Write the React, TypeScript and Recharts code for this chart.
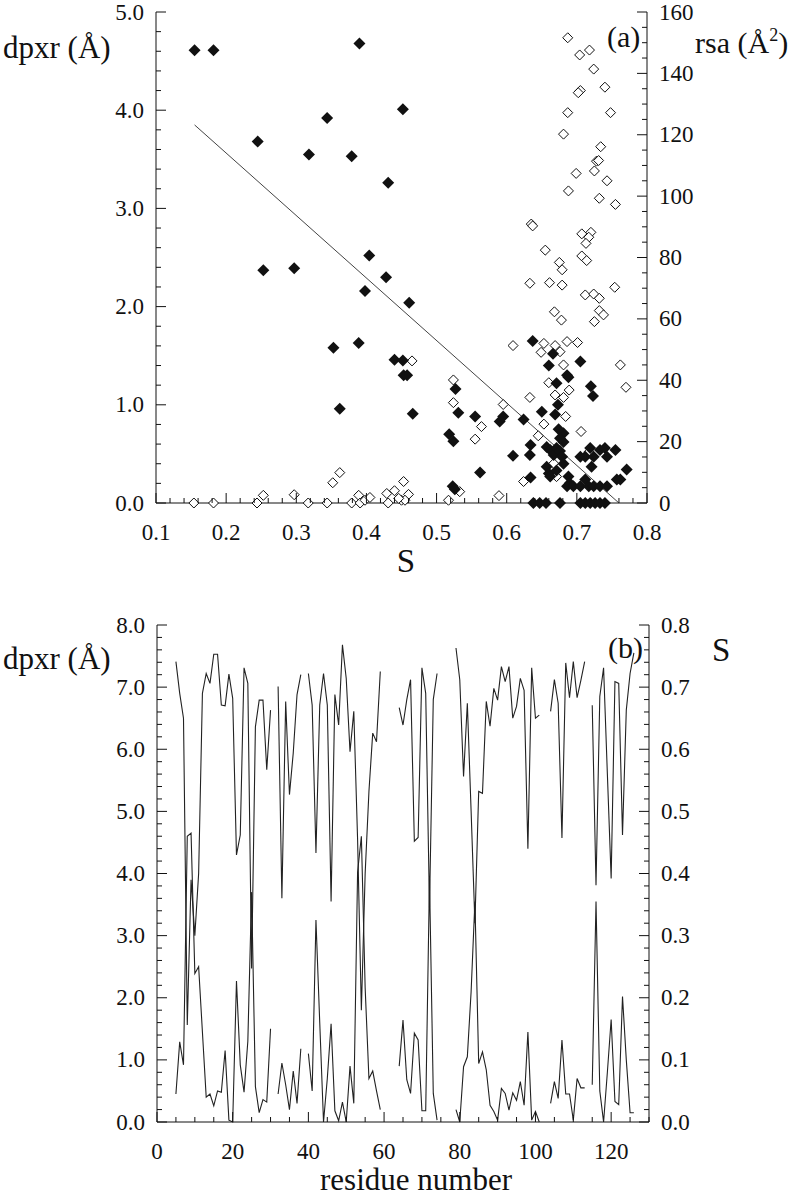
import React from 'react';
import { ScatterChart, Scatter, LineChart, Line, XAxis, YAxis } from 'recharts';

const FONT = '"Liberation Serif", "Times New Roman", "DejaVu Serif", serif';
const INK = '#111';

// ---- panel (a): dpxr (filled) and rsa (open) against S ----
const filledS = [
  0.155, 0.182, 0.390, 0.452, 0.245, 0.344, 0.318, 0.379, 0.431, 0.404, 0.253, 0.297, 0.428, 0.398,
  0.461, 0.353, 0.389, 0.362, 0.440, 0.452, 0.453, 0.458, 0.466, 0.527, 0.531, 0.518, 0.524, 0.523,
  0.526, 0.555, 0.562, 0.590, 0.595, 0.609, 0.624, 0.637, 0.634, 0.633, 0.634, 0.650, 0.660, 0.666,
  0.671, 0.673, 0.669, 0.686, 0.688, 0.705, 0.720, 0.723,
  0.638, 0.647, 0.656, 0.676, 0.705, 0.712, 0.719, 0.726, 0.733, 0.740,
  0.657, 0.662, 0.667, 0.671, 0.676, 0.681, 0.679, 0.657, 0.660, 0.662, 0.671, 0.681, 0.688, 0.690,
  0.686, 0.695, 0.705, 0.712, 0.717, 0.724, 0.733, 0.743, 0.705, 0.712, 0.719, 0.721, 0.724, 0.733,
  0.740, 0.743, 0.755, 0.757, 0.762, 0.771, 0.681, 0.674, 0.676,
];
const filledDpxr = [
  4.61, 4.61, 4.68, 4.01, 3.68, 3.92, 3.55, 3.53, 3.26, 2.52, 2.37, 2.39, 2.30, 2.16,
  2.04, 1.58, 1.63, 0.96, 1.46, 1.45, 1.30, 1.30, 0.91, 1.16, 0.92, 0.70, 0.63, 0.17,
  0.14, 0.88, 0.31, 0.83, 0.88, 0.48, 0.85, 1.65, 0.59, 0.49, 0.26, 0.93, 1.40, 1.52,
  1.22, 1.00, 0.90, 1.30, 1.28, 1.44, 1.19, 1.09,
  0, 0, 0, 0, 0, 0, 0, 0, 0, 0,
  0.57, 0.54, 0.49, 0.56, 0.53, 0.71, 0.47, 0.37, 0.30, 0.27, 0.33, 0.40, 0.27, 0.20,
  0.17, 0.17, 0.17, 0.24, 0.17, 0.17, 0.17, 0.17, 0.47, 0.47, 0.56, 0.37, 0.47, 0.54,
  0.56, 0.47, 0.54, 0.24, 0.24, 0.34, 0.62, 0.75, 0.66,
];
const hollowS = [
  0.687, 0.704, 0.718, 0.724, 0.740, 0.705, 0.702, 0.687, 0.748, 0.681, 0.734, 0.728, 0.731, 0.699,
  0.725, 0.743, 0.688, 0.732, 0.755, 0.635, 0.637, 0.655, 0.707, 0.720, 0.717, 0.713, 0.707, 0.714,
  0.675, 0.679,
  0.633, 0.661, 0.679, 0.712, 0.724, 0.732, 0.754, 0.668, 0.678, 0.725, 0.732, 0.738, 0.609, 0.653,
  0.669, 0.686, 0.701, 0.649, 0.676, 0.681, 0.762, 0.465, 0.660, 0.689, 0.669, 0.681, 0.633, 0.524,
  0.524, 0.770, 0.595, 0.684, 0.564, 0.555, 0.645, 0.706, 0.653, 0.717, 0.667, 0.671, 0.624, 0.453,
  0.533, 0.460, 0.589, 0.517, 0.450, 0.455,
  0.154, 0.182, 0.244, 0.253, 0.297, 0.317, 0.344, 0.352, 0.362, 0.379, 0.389, 0.391, 0.398, 0.405,
  0.429, 0.431, 0.440, 0.446,
];
const hollowRsa = [
  151.6, 146.0, 147.6, 141.4, 135.5, 134.4, 133.7, 127.2, 127.2, 120.2, 116.1, 111.4, 111.6, 107.4,
  108.2, 105.0, 101.7, 99.3, 97.3, 90.9, 90.3, 82.4, 87.7, 88.2, 86.6, 84.6, 80.5, 79.0,
  78.4, 76.0,
  71.6, 71.8, 71.0, 67.8, 68.1, 66.7, 70.3, 62.3, 59.6, 59.1, 62.7, 61.3, 51.3, 52.0,
  51.3, 52.6, 52.3, 49.1, 49.3, 45.0, 45.0, 46.3, 39.2, 36.8, 35.2, 34.4, 34.4, 40.1,
  32.7, 37.7, 32.1, 28.2, 24.9, 20.8, 21.9, 23.3, 25.7, 16.6, 12.9, 8.6, 7.0, 7.0,
  3.7, 2.8, 2.4, 0.9, 0.9, 0.9,
  0, 0, 0, 2.5, 2.7, 0, 0, 6.6, 9.9, 0, 2.5, 0, 0.9, 1.8,
  3.1, 0, 4.0, 1.5,
];
// fitted line (ends)
const fitS = [0.155, 0.76];
const fitDpxr = [3.85, 0.0];

// ---- panel (b): per-residue dpxr and S ----
const residues = [
  5, 6, 7, 8, 9, 10, 11, 12, 13, 14, 15, 16, 17, 18, 19, 20, 21, 22, 23, 24, 25, 26, 27, 28, 29, 30,
  31, 32, 33, 34, 35, 36, 37, 38, 39, 40, 41, 42, 43, 44, 45, 46, 47, 48, 49, 50, 51, 52, 53, 54, 55,
  56, 57, 58, 59, 60, 61, 62, 63, 64, 65, 66, 67, 68, 69, 70, 71, 72, 73, 74, 75, 76, 77, 78, 79, 80,
  81, 82, 83, 84, 85, 86, 87, 88, 89, 90, 91, 92, 93, 94, 95, 96, 97, 98, 99, 100, 101, 102, 103, 104,
  105, 106, 107, 108, 109, 110, 111, 112, 113, 114, 115, 116, 117, 118, 119, 120, 121, 122, 123, 124,
  125, 126,
];
const dpxrByResidue = [
  0.45, 1.29, 0.92, 4.60, 4.65, 2.39, 2.50, 1.45, 0.40, 0.45, 0.26, 0.50, 0.48, 1.15, 0.03, 0.00,
  2.27, 0.92, 0.48, 1.30, 3.70, 0.57, 0.15, 0.36, 0.32, 1.50,
  null, 0.45, 0.95, 0.60, 0.20, 0.82, 0.30, 1.18, null, 1.10, 0.50, 3.25, 1.60, 0.00, 0.70,
  1.58, 0.18, 0.02, 0.32, 0.00, 0.90, 0.30, 4.02, 4.60, 2.16,
  0.70, 0.82, 0.50, 0.20, null, null, null, null, 0.90, 1.64, 0.68, 0.46, 1.43, 1.32, 0.18, 0.18,
  3.92, 0.46, 0.03, null, null, null, null, 0.20, 0.00,
  0.89, 1.05, 2.10, 3.55, 0.94, 1.13, 0.84, 0.27, 0.17, 0.03, 0.54, 0.46, 0.19, 0.47, 0.35, 0.65,
  0.27, 1.45, 0.03, 0.17, 0.00, null, null, 0.30,
  0.65, 0.38, 1.32, 0.45, 0.45, 0.03, 0.70, 0.55, 0.55, null, 0.60, 3.55, 0.50, 0.00, 0.80, 1.65,
  0.33, 0.28, 2.02, 1.00,
  0.15, 0.15,
];
const sByResidue = [
  0.741, 0.690, 0.650, 0.156, 0.390, 0.300, 0.400, 0.690, 0.722, 0.706, 0.753, 0.753, 0.671, 0.670,
  0.721, 0.682, 0.430, 0.462, 0.731, 0.706, 0.247, 0.636, 0.679, 0.679, 0.567, 0.663,
  null, 0.701, 0.360, 0.677, 0.527, 0.594, 0.688, 0.720, null, 0.722, 0.671, 0.433, 0.671, 0.722,
  0.671, 0.355, 0.688, 0.639, 0.768, 0.714, 0.596, 0.661, 0.455, 0.180, 0.400,
  0.532, 0.626, 0.612, 0.725, null, null, null, null, 0.667, 0.639, 0.680, 0.712, 0.452, 0.458,
  0.731, 0.690, 0.345, 0.680, 0.722, null, null, null, null, 0.763, 0.712,
  0.556, 0.674, 0.500, 0.320, 0.532, 0.529, 0.677, 0.637, 0.698, 0.679, 0.733, 0.709, 0.733, 0.650,
  0.669, 0.714, 0.695, 0.440, 0.731, 0.650, 0.655, null, null, 0.661,
  0.712, 0.674, 0.457, 0.739, 0.683, 0.741, 0.683, 0.711, 0.741, null, 0.671, 0.381, 0.685, 0.731,
  0.560, 0.392, 0.709, 0.706, 0.462, 0.663,
  0.722, 0.755,
];

// ---- axis ticks ----
const tickRange = (lo: number, hi: number, step: number) => {
  const n = Math.round((hi - lo) / step);
  const out: number[] = [];
  for (let i = 0; i <= n; i++) out.push(Math.round((lo + i * step) * 1000) / 1000);
  return out;
};
const sMajorA = [0.1, 0.2, 0.3, 0.4, 0.5, 0.6, 0.7, 0.8];
const dpxrMajorA = [0, 1, 2, 3, 4, 5];
const rsaMajor = [0, 20, 40, 60, 80, 100, 120, 140, 160];
const resMajor = [0, 20, 40, 60, 80, 100, 120];
const dpxrMajorB = [0, 1, 2, 3, 4, 5, 6, 7, 8];
const sMajorB = [0, 0.1, 0.2, 0.3, 0.4, 0.5, 0.6, 0.7, 0.8];

const filledPoints = filledS.map((s, i) => ({ s, d: filledDpxr[i] }));
const hollowPoints = hollowS.map((s, i) => ({ s, rsa: hollowRsa[i] }));
const fitPoints = fitS.map((s, i) => ({ s, d: fitDpxr[i] }));
const residueRows = residues.map((res, i) => ({ res, d: dpxrByResidue[i], s: sByResidue[i] }));

type Side = 'left' | 'right' | 'bottom' | 'top';

const tickText = { fontFamily: FONT, fontSize: 23 };

const makeTick = (side: Side, majors: number[], fmt: (v: number) => string) => (props: any) => {
  const { x, y, payload } = props;
  const v = payload.value as number;
  const major = majors.some((m) => Math.abs(m - v) < 1e-6);
  const len = major ? 10 : 5;
  if (side === 'left') {
    return (
      <g>
        <line x1={x} y1={y} x2={x + len} y2={y} stroke={INK} strokeWidth={1} />
        {major && (
          <text x={x - 12} y={y} textAnchor="end" dominantBaseline="central" fill={INK} style={tickText}>
            {fmt(v)}
          </text>
        )}
      </g>
    );
  }
  if (side === 'right') {
    return (
      <g>
        <line x1={x} y1={y} x2={x - len} y2={y} stroke={INK} strokeWidth={1} />
        {major && (
          <text x={x + 12} y={y} textAnchor="start" dominantBaseline="central" fill={INK} style={tickText}>
            {fmt(v)}
          </text>
        )}
      </g>
    );
  }
  if (side === 'top') {
    return <line x1={x} y1={y} x2={x} y2={y + len} stroke={INK} strokeWidth={1} />;
  }
  return (
    <g>
      <line x1={x} y1={y} x2={x} y2={y - len} stroke={INK} strokeWidth={1} />
      {major && (
        <text x={x} y={y + 29} textAnchor="middle" dominantBaseline="central" fill={INK} style={tickText}>
          {fmt(v)}
        </text>
      )}
    </g>
  );
};

const one = (v: number) => v.toFixed(1);
const int = (v: number) => String(Math.round(v));

const filledDiamond = (p: any) => {
  const { cx, cy } = p;
  return <polygon points={`${cx},${cy - 6} ${cx + 6},${cy} ${cx},${cy + 6} ${cx - 6},${cy}`} fill={INK} />;
};
const openDiamond = (p: any) => {
  const { cx, cy } = p;
  return (
    <polygon
      points={`${cx},${cy - 5} ${cx + 5},${cy} ${cx},${cy + 5} ${cx - 5},${cy}`}
      fill="#fff"
      stroke={INK}
      strokeWidth={1}
    />
  );
};
const noDot = () => <g />;

const axisLine = { stroke: INK, strokeWidth: 1 };

function PanelA() {
  return (
    <ScatterChart width={795} height={580} margin={{ top: 12, right: 0, bottom: 0, left: 0 }}>
      <XAxis
        dataKey="s"
        type="number"
        domain={[0.1, 0.8]}
        ticks={tickRange(0.1, 0.8, 0.02)}
        interval={0}
        height={77}
        tickSize={0}
        tickMargin={0}
        tickLine={false}
        axisLine={axisLine}
        tick={makeTick('bottom', sMajorA, one)}
      />
      <XAxis
        xAxisId="top"
        orientation="top"
        type="number"
        domain={[0.1, 0.8]}
        allowDataOverflow
        ticks={tickRange(0.1, 0.8, 0.02)}
        interval={0}
        height={0}
        tickSize={0}
        tickMargin={0}
        tickLine={false}
        axisLine={axisLine}
        tick={makeTick('top', sMajorA, one)}
      />
      <YAxis
        yAxisId="d"
        dataKey="d"
        type="number"
        domain={[0, 5]}
        ticks={tickRange(0, 5, 0.2)}
        interval={0}
        width={156}
        tickSize={0}
        tickMargin={0}
        tickLine={false}
        axisLine={axisLine}
        tick={makeTick('left', dpxrMajorA, one)}
      />
      <YAxis
        yAxisId="rsa"
        dataKey="rsa"
        orientation="right"
        type="number"
        domain={[0, 160]}
        ticks={tickRange(0, 160, 5)}
        interval={0}
        width={148}
        tickSize={0}
        tickMargin={0}
        tickLine={false}
        axisLine={axisLine}
        tick={makeTick('right', rsaMajor, int)}
      />
      <Scatter
        data={fitPoints}
        yAxisId="d"
        line={{ stroke: '#444', strokeWidth: 1 }}
        shape={noDot}
        isAnimationActive={false}
      />
      <Scatter data={hollowPoints} yAxisId="rsa" shape={openDiamond} isAnimationActive={false} />
      <Scatter data={filledPoints} yAxisId="d" shape={filledDiamond} isAnimationActive={false} />
    </ScatterChart>
  );
}

function PanelB() {
  return (
    <LineChart width={795} height={609} data={residueRows} margin={{ top: 35, right: 0, bottom: 0, left: 0 }}>
      <XAxis
        dataKey="res"
        type="number"
        domain={[0, 130]}
        ticks={tickRange(0, 130, 5)}
        interval={0}
        height={77}
        tickSize={0}
        tickMargin={0}
        tickLine={false}
        axisLine={axisLine}
        tick={makeTick('bottom', resMajor, int)}
      />
      <XAxis
        xAxisId="top"
        orientation="top"
        type="number"
        domain={[0, 130]}
        allowDataOverflow
        ticks={tickRange(0, 130, 5)}
        interval={0}
        height={0}
        tickSize={0}
        tickMargin={0}
        tickLine={false}
        axisLine={axisLine}
        tick={makeTick('top', resMajor, int)}
      />
      <YAxis
        yAxisId="d"
        type="number"
        domain={[0, 8]}
        ticks={tickRange(0, 8, 0.2)}
        interval={0}
        width={157}
        tickSize={0}
        tickMargin={0}
        tickLine={false}
        axisLine={axisLine}
        tick={makeTick('left', dpxrMajorB, one)}
      />
      <YAxis
        yAxisId="s"
        orientation="right"
        type="number"
        domain={[0, 0.8]}
        ticks={tickRange(0, 0.8, 0.02)}
        interval={0}
        width={146}
        tickSize={0}
        tickMargin={0}
        tickLine={false}
        axisLine={axisLine}
        tick={makeTick('right', sMajorB, one)}
      />
      <Line yAxisId="d" dataKey="d" stroke="#222" strokeWidth={1.1} dot={false} isAnimationActive={false} />
      <Line yAxisId="s" dataKey="s" stroke="#222" strokeWidth={1.1} dot={false} isAnimationActive={false} />
    </LineChart>
  );
}

export default function App() {
  const t = (size: number) => ({ fontFamily: FONT, fontSize: size });
  return (
    <div style={{ position: 'absolute', left: 0, top: 0, width: 795, height: 1199, background: '#fff' }}>
      <div style={{ position: 'absolute', left: 0, top: 0 }}>
        <PanelA />
      </div>
      <div style={{ position: 'absolute', left: 0, top: 590 }}>
        <PanelB />
      </div>
      <svg
        width={795}
        height={1199}
        style={{ position: 'absolute', left: 0, top: 0, pointerEvents: 'none' }}
      >
        <text x={3} y={58} fill={INK} style={t(31)}>dpxr (Å)</text>
        <text x={695} y={53} fill={INK} style={t(30)}>
          rsa (Å<tspan dy={-12} style={{ fontSize: 18 }}>2</tspan>
          <tspan dy={12}>)</tspan>
        </text>
        <text x={607} y={47} fill={INK} style={t(30)}>(a)</text>
        <text x={406} y={572} textAnchor="middle" fill={INK} style={t(33)}>S</text>
        <text x={3} y={669} fill={INK} style={t(31)}>dpxr (Å)</text>
        <text x={608} y={658} fill={INK} style={t(30)}>(b)</text>
        <text x={712} y={661} fill={INK} style={t(33)}>S</text>
        <text x={320} y={1190} fill={INK} style={t(31)}>residue number</text>
      </svg>
    </div>
  );
}
